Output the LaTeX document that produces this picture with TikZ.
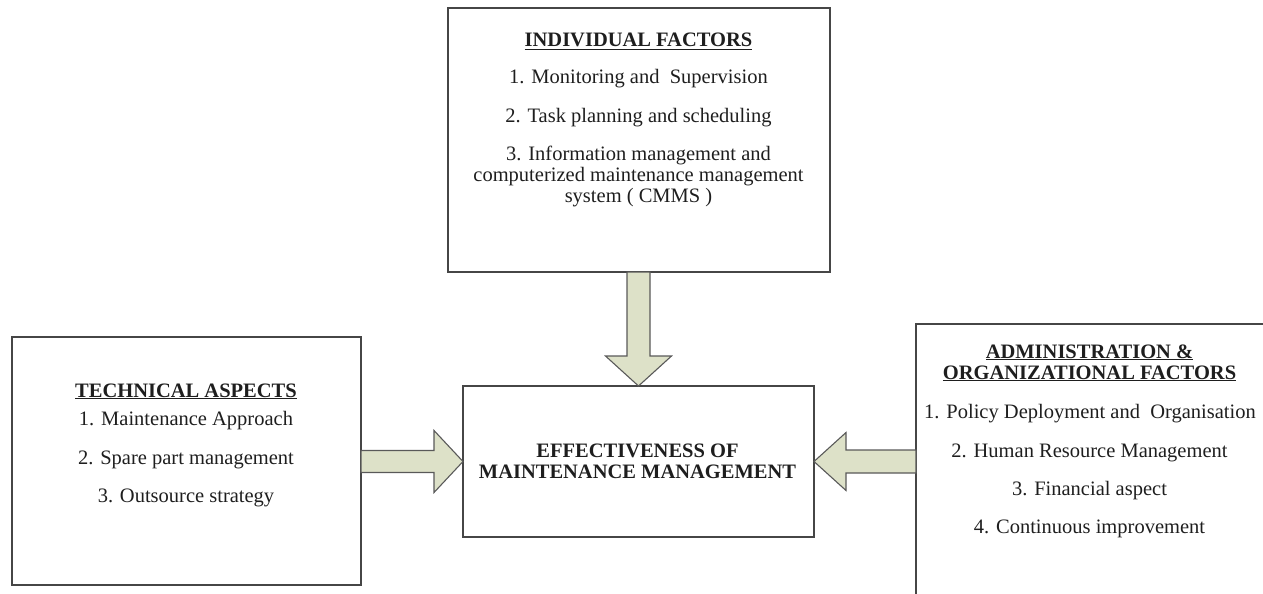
\documentclass[tikz,border=0pt]{standalone}
\usepackage{fontspec}
\setmainfont{Liberation Serif}
\usetikzlibrary{calc}
\definecolor{arrowfill}{RGB}{221,225,200}
\definecolor{linegray}{RGB}{70,70,70}
\definecolor{textgray}{RGB}{30,30,30}
\begin{document}
\begin{tikzpicture}[x=1pt,y=-1pt,
  box/.style={draw=linegray,line width=1.3pt,rectangle,inner sep=0pt,outer sep=0pt},
  txt/.style={inner sep=0pt,outer sep=0pt,align=center,text=textgray,font=\fontsize{20.5}{21}\selectfont},
  hd/.style={txt,font=\fontsize{20.5}{21}\selectfont\bfseries},
  fat/.style={draw=linegray!90,line width=1.1pt,fill=arrowfill,line join=miter}]
\clip (0,0) rectangle (1263,594);
% boxes
\node[box,minimum width=382,minimum height=264] (top) at (639,140) {};
\node[box,minimum width=349,minimum height=248] (left) at (186.5,461) {};
\node[box,minimum width=351,minimum height=151] (mid) at (638.5,461.5) {};
\node[box,minimum width=352,minimum height=280] (right) at (1092,464) {};
% top box text
\node[hd,anchor=base] (topt) at (638.5,47) {\underline{INDIVIDUAL FACTORS}};
\node[txt,anchor=base] (top1) at (638.5,84) {1. Monitoring and\ \ Supervision};
\node[txt,anchor=base] (top2) at (638.5,122.5) {2. Task planning and scheduling};
\node[txt,anchor=base] (top3) at (638.5,202.5) {3. Information management and\\computerized maintenance management\\system ( CMMS )};
% left box text
\node[hd,anchor=base] (leftt) at (186,397) {\underline{TECHNICAL ASPECTS}};
\node[txt,anchor=base] (left1) at (186,425) {1. Maintenance Approach};
\node[txt,anchor=base] (left2) at (186,464) {2. Spare part management};
\node[txt,anchor=base] (left3) at (186,502) {3. Outsource strategy};
% middle text
\node[hd,anchor=base] (midt) at (637.5,478) {EFFECTIVENESS OF\\MAINTENANCE MANAGEMENT};
% right box text
\node[hd,anchor=base] (rightt) at (1089.5,379) {\underline{ADMINISTRATION \&}\\\underline{ORGANIZATIONAL FACTORS}};
\node[txt,anchor=base] (right1) at (1090,418) {1. Policy Deployment and\ \ Organisation};
\node[txt,anchor=base] (right2) at (1089.5,457) {2. Human Resource Management};
\node[txt,anchor=base] (right3) at (1089.5,495) {3. Financial aspect};
\node[txt,anchor=base] (right4) at (1089.5,533) {4. Continuous improvement};
% helper coordinates for block arrows
\coordinate (dR) at ($(mid.north)+(11.5,0)$);
\coordinate (dL) at ($(mid.north)+(-11.5,0)$);
\coordinate (lT) at ($(mid.west)+(0,-11)$);
\coordinate (lB) at ($(mid.west)+(0,11)$);
\coordinate (rT) at ($(mid.east)+(0,-11.5)$);
\coordinate (rB) at ($(mid.east)+(0,11.5)$);
% down arrow
\draw[fat] (mid.north) -- ++(33,-30) -- ++(-21.5,0) -- (dR |- top.south)
  -- (dL |- top.south) -- ($(mid.north)+(-11.5,-30)$) -- ++(-21.5,0) -- cycle;
% left arrow
\draw[fat] (mid.west) -- ++(-29,-31) -- ++(0,20) -- (lT -| left.east)
  -- (lB -| left.east) -- ($(mid.west)+(-29,11)$) -- ++(0,20) -- cycle;
% right arrow
\draw[fat] (mid.east) -- ++(32,-29) -- ++(0,17.5) -- (rT -| right.west)
  -- (rB -| right.west) -- ($(mid.east)+(32,11.5)$) -- ++(0,17.5) -- cycle;
\end{tikzpicture}
\end{document}
